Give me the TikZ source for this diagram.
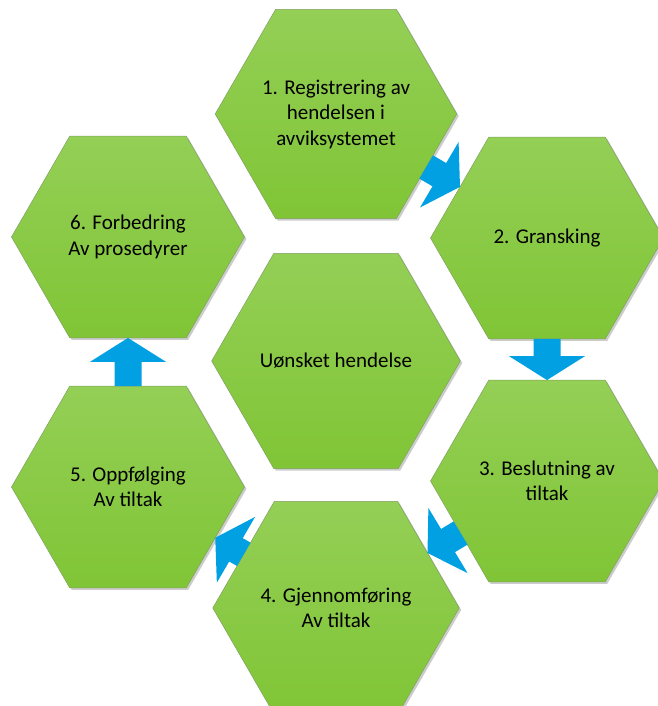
\documentclass[tikz,border=0pt]{standalone}
\usepackage{fontspec}
\setmainfont{Carlito}
\usetikzlibrary{arrows.meta,positioning,shapes.geometric,shadows}
\definecolor{hexgreentop}{RGB}{148,207,86}
\definecolor{hexgreenbot}{RGB}{128,197,54}
\definecolor{hexedge}{RGB}{128,160,98}
\definecolor{flowblue}{RGB}{0,160,226}
\tikzset{%
	hexa/.style = {regular polygon, regular polygon sides=6, minimum size=233pt, inner sep=0pt, outer sep=0pt, draw=hexedge, line width=0.5pt, top color=hexgreentop, bottom color=hexgreenbot, align=center, text=black, font=\fontsize{21}{25.5}\selectfont, drop shadow={shadow xshift=2pt, shadow yshift=-2pt, opacity=0.2, fill=black}}, % Step
	flow/.style = {draw=flowblue, line width=27pt, -{Triangle[width=75pt,length=24pt]}}, % Block arrow
}
\begin{document}
\begin{tikzpicture}[on grid]
	\useasboundingbox (-336pt,-345pt) rectangle (321pt,361pt);
	\node [hexa] (c) {Uønsket hendelse};
	\node [hexa] (h1) [above=247pt of c] {1. Registrering av\\hendelsen i\\avviksystemet};
	\node [hexa] (h2) [above right=123pt and 211pt of c] {2. Gransking};
	\node [hexa] (h3) [below right=120pt and 211pt of c] {3. Beslutning av\\tiltak};
	\node [hexa] (h4) [below=247pt of c] {4. Gjennomføring\\Av tiltak};
	\node [hexa] (h5) [below left=126pt and 208pt of c] {5. Oppfølging\\Av tiltak};
	\node [hexa] (h6) [above left=124pt and 208pt of c] {6. Forbedring\\Av prosedyrer};
	
	\draw[flow] (h1) -- (h2);
	\draw[flow] (h2) -- (h3);
	\draw[flow] (h3) -- (h4);
	\draw[flow] (h4) -- (h5);
	\draw[flow] (h5) -- (h6);
\end{tikzpicture}
\end{document}
